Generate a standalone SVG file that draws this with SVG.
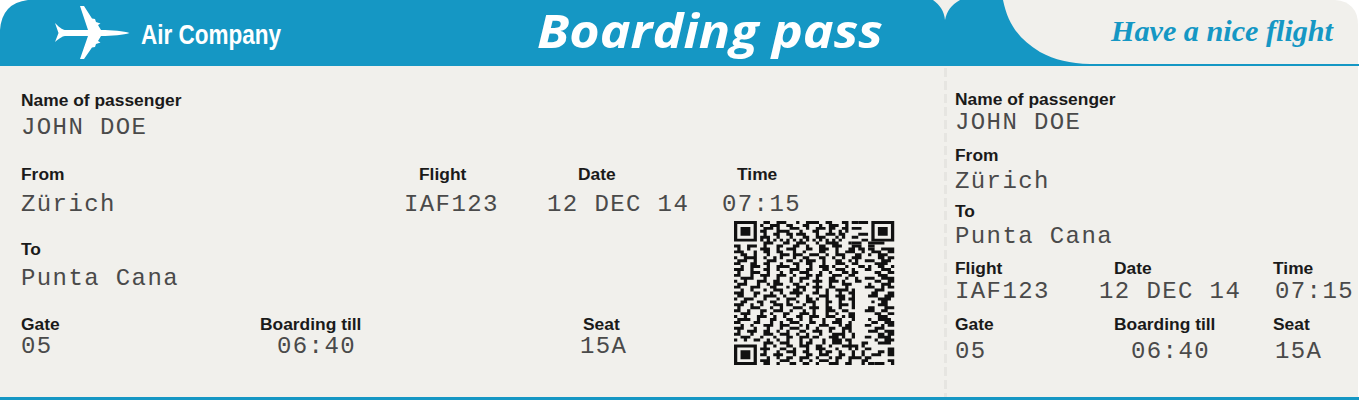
<svg xmlns="http://www.w3.org/2000/svg" width="1359" height="400" viewBox="0 0 1359 400">
<style>
.l{font:bold 17.4px "Liberation Sans",Arial,sans-serif;fill:#1a1a1a}
.v{font:24px "Liberation Mono","Courier New",monospace;fill:#4a4a4a;letter-spacing:1.4px}
.b{fill:#1597c4}
</style>
<rect width="1359" height="400" fill="#fff"/>
<g id="ticket">
<path d="M0 66V30Q2 3 28 0H1335Q1358 2 1358 25V400H0Z" fill="#f1f0ec"/>
<path class="b" d="M0 66V30Q2 3 28 0H933C940 5 944 11 945 20C947 11 951 5 960 0H1003C1008 25 1020 40 1040 52C1055 60 1070 63.500 1090 64H1359V66Z"/>
<rect class="b" x="0" y="397" width="1359" height="3"/>
<path d="M945.500 68V397" stroke="#e6e5e1" stroke-width="3" stroke-dasharray="9 4" fill="none"/>
</g>
<g id="brand">
<path fill="#fff" d="M129.500 33C124 31 112 30 101 30L98 25 100.500 23.500 96 22 95 19 92 18.500 84 6H80L88 30H66C63 30 61 29 55 23L58.500 33 55 42C61 37 63 36 66 36H88L80 59H84L92 47.500 95 47 96 44 100.500 42.500 98 41 101 36C112 36 124 35 129.500 33Z"/>
<text x="141" y="44" font-family="'Liberation Sans Narrow','Liberation Sans',sans-serif" font-weight="bold" font-size="28" fill="#fff" textLength="140" lengthAdjust="spacingAndGlyphs">Air Company</text>
</g>
<g id="title">
<text x="537" y="48" font-family="'Open Sans','Noto Sans',sans-serif" font-style="italic" font-weight="700" font-size="46" fill="#fff" textLength="346" lengthAdjust="spacingAndGlyphs">Boarding pass</text>
</g>
<g id="slogan">
<text x="1111" y="41" font-family="'Liberation Serif',serif" font-style="italic" font-weight="bold" font-size="30" fill="#1597c4" textLength="222" lengthAdjust="spacingAndGlyphs">Have a nice flight</text>
</g>
<g id="pass-main">
<text class="l" x="21" y="106">Name of passenger</text>
<text class="v" x="21" y="134">JOHN DOE</text>
<text class="l" x="21" y="180">From</text>
<text class="l" x="419" y="180">Flight</text>
<text class="l" x="578" y="180">Date</text>
<text class="l" x="737" y="180">Time</text>
<text class="v" x="21" y="211">Zürich</text>
<text class="v" x="404" y="211">IAF123</text>
<text class="v" x="547" y="211">12 DEC 14</text>
<text class="v" x="722" y="211">07:15</text>
<text class="l" x="21" y="255">To</text>
<text class="v" x="21" y="285">Punta Cana</text>
<text class="l" x="21" y="330">Gate</text>
<text class="l" x="260" y="330">Boarding till</text>
<text class="l" x="583" y="330">Seat</text>
<text class="v" x="21" y="353">05</text>
<text class="v" x="277" y="353">06:40</text>
<text class="v" x="580" y="353">15A</text>
</g>
<g id="qr" transform="translate(734 221) scale(3.27 2.94)">
<path fill="none" stroke="#111" stroke-width="1" d="M.5 .5h6v6h-6zM42.500 .5h6v6h-6zM.5 42.500h6v6h-6z"/>
<path fill="#111" d="M2 2h3v3h-3zM44 2h3v3h-3zM2 44h3v3h-3z"/>
<path fill="none" stroke="#111" stroke-width="1" d="M9 .5h2m2 0h3m3 0h1m2 0h4m2 0h2m3 0h2m1 0h2
M8 1.500h1m2 0h3m2 0h2m3 0h2m3 0h1m2 0h3m2 0h1
M9 2.500h3m1 0h1m3 0h3m2 0h1m2 0h3m1 0h2m2 0h2
M8 3.500h2m3 0h4m3 0h1m3 0h2m3 0h1m2 0h1m1 0h1
M9 4.500h1m2 0h2m2 0h2m1 0h3m3 0h1m2 0h3m1 0h2
M8 5.500h3m2 0h1m3 0h1m3 0h2m2 0h3m3 0h1m1 0h1
M8 6.500h1m1 0h1m1 0h1m1 0h1m1 0h1m1 0h1m1 0h1m1 0h1m1 0h1m1 0h1m1 0h1m1 0h1m1 0h1
M9 7.500h3m3 0h2m2 0h3m3 0h1m2 0h4m3 0h1
M0 8.500h2m2 0h3m2 0h1m3 0h2m3 0h2m2 0h1m3 0h2m2 0h3m3 0h3m2 0h2
M1 9.500h1m2 0h1m3 0h3m2 0h1m2 0h3m3 0h2m2 0h3m2 0h1m3 0h2m1 0h2
M0 10.500h3m3 0h1m2 0h2m2 0h2m3 0h1m2 0h1m4 0h2m3 0h1m2 0h3m2 0h1
M2 11.500h2m2 0h1m3 0h1m3 0h3m1 0h3m2 0h3m2 0h1m2 0h3m3 0h2
M0 12.500h1m2 0h4m2 0h1m2 0h1m1 0h1m3 0h1m2 0h2m3 0h2m2 0h1m2 0h1m2 0h3
M1 13.500h3m2 0h1m3 0h3m3 0h2m2 0h1m1 0h3m2 0h1m3 0h2m2 0h1m1 0h1
M0 14.500h2m3 0h2m2 0h2m3 0h1m3 0h2m2 0h2m3 0h1m3 0h3m2 0h2
M2 15.500h1m2 0h3m2 0h1m2 0h4m2 0h1m3 0h1m2 0h3m1 0h1m3 0h1m3 0h2
M0 16.500h3m2 0h1m3 0h2m2 0h1m3 0h3m2 0h2m3 0h2m2 0h3m2 0h1
M1 17.500h1m3 0h3m2 0h1m3 0h1m2 0h1m2 0h3m3 0h1m2 0h1m3 0h2m1 0h2
M0 18.500h2m3 0h1m2 0h3m2 0h3m2 0h1m3 0h2m1 0h2m3 0h3m2 0h2
M2 19.500h4m3 0h1m3 0h1m3 0h1m2 0h3m2 0h1m3 0h2m3 0h1m2 0h1
M0 20.500h1m2 0h1m3 0h3m2 0h2m3 0h1m2 0h1m3 0h3m2 0h3m1 0h1m3 0h2
M1 21.500h3m3 0h1m2 0h1m1 0h3m3 0h2m2 0h1m2 0h1m3 0h1m3 0h3
M0 22.500h2m3 0h3m3 0h2m3 0h1m2 0h3m2 0h3m2 0h2m3 0h1
M2 23.500h1m2 0h1m3 0h1m2 0h3m3 0h2m1 0h1m3 0h1m2 0h1m2 0h4m1 0h1
M0 24.500h3m3 0h2m3 0h1m2 0h1m2 0h4m3 0h2m2 0h1m3 0h1m2 0h2
M1 25.500h2m3 0h1m2 0h4m2 0h1m3 0h1m2 0h1m3 0h3m2 0h3m2 0h1
M0 26.500h1m2 0h3m3 0h1m3 0h1m2 0h3m3 0h2m1 0h1m2 0h1m3 0h2m1 0h2
M2 27.500h2m3 0h2m2 0h2m3 0h1m2 0h1m2 0h3m3 0h2m2 0h1m3 0h1
M0 28.500h3m2 0h1m2 0h1m3 0h3m1 0h2m3 0h1m2 0h1m3 0h1m3 0h3m1 0h1
M1 29.500h1m3 0h3m3 0h1m2 0h1m3 0h3m2 0h3m2 0h2m2 0h1m3 0h1
M0 30.500h2m2 0h1m3 0h2m2 0h3m2 0h1m3 0h1m2 0h1m3 0h3m2 0h2
M2 31.500h3m3 0h1m2 0h1m3 0h2m3 0h3m1 0h1m3 0h1m2 0h1m3 0h2
M0 32.500h1m2 0h1m3 0h3m2 0h1m2 0h1m3 0h2m2 0h3m2 0h3m2 0h1m1 0h2
M1 33.500h4m2 0h1m3 0h2m3 0h2m2 0h1m2 0h1m3 0h1m3 0h2m3 0h1
M0 34.500h2m4 0h2m3 0h1m2 0h1m2 0h3m3 0h2m2 0h1m2 0h3m2 0h1
M2 35.500h1m2 0h1m3 0h3m2 0h3m3 0h1m1 0h1m3 0h3m3 0h1m1 0h2
M0 36.500h3m3 0h1m3 0h1m3 0h1m2 0h3m2 0h1m2 0h1m3 0h2m2 0h3
M1 37.500h1m2 0h3m2 0h2m2 0h1m2 0h1m3 0h2m2 0h3m2 0h1m3 0h1m1 0h1
M0 38.500h2m3 0h1m3 0h3m2 0h3m2 0h1m2 0h1m3 0h1m3 0h4m2 0h1
M2 39.500h3m3 0h1m3 0h1m3 0h2m2 0h3m1 0h2m3 0h3m1 0h1m2 0h1
M0 40.500h1m2 0h1m2 0h2m2 0h1m2 0h1m2 0h1m3 0h1m2 0h1m3 0h1m2 0h3m1 0h2
M9 41.500h3m2 0h3m3 0h1m1 0h2m3 0h1m2 0h3m2 0h1m3 0h2
M9 42.500h1m2 0h1m3 0h2m2 0h3m2 0h2m2 0h1m3 0h5m1 0h1
M8 43.500h3m3 0h2m2 0h1m3 0h1m2 0h3m3 0h1m3 0h1m1 0h1m2 0h2
M9 44.500h1m3 0h1m2 0h3m2 0h2m3 0h1m1 0h2m2 0h1m3 0h1m2 0h1
M8 45.500h2m2 0h3m3 0h1m3 0h2m2 0h3m3 0h2m2 0h1m2 0h1
M10 46.500h1m2 0h1m2 0h2m2 0h3m2 0h1m3 0h1m1 0h2m2 0h4m1 0h2
M8 47.500h3m3 0h3m3 0h1m2 0h1m2 0h3m2 0h1m3 0h1m3 0h2
M9 48.500h2m2 0h1m3 0h2m2 0h2m2 0h1m3 0h3m2 0h2m3 0h1m1 0h2"/>
<path fill="none" stroke="#111" stroke-width="1" d="M38 .5h3M36 2.500h3M38 4.500h3M36 5.500h2M39 6.500h2M36 7.500h3m2 0h5
M41 9.500h2m2 0h4M42 10.500h3m2 0h2M41 11.500h1m2 0h3M44 12.500h2m1 0h2M40 13.500h3m2 0h3M43 14.500h4M41 15.500h1m2 0h2m2 0h1M40 16.500h2m3 0h3M43 17.500h2m2 0h2M44 18.500h3M40 19.500h3m2 0h4M43 20.500h2m2 0h2M41 21.500h1m3 0h3M40 22.500h3m2 0h1m1 0h2M43 23.500h3M42 24.500h2m3 0h2M41 25.500h3m2 0h3M44 26.500h4M42 27.500h1m2 0h2M44 28.500h3M41 29.500h2m3 0h3M40 30.500h3m2 0h2M43 31.500h2m2 0h2M44 32.500h3M41 33.500h1m2 0h4M42 34.500h2m2 0h3M40 35.500h2m3 0h1m1 0h2M43 36.500h3M41 37.500h3m2 0h3M44 38.500h2m1 0h2M40 39.500h2m2 0h4M43 40.500h1m2 0h3
M44 41.500h4M47 43.500h2M44 44.500h2m1 0h2M42 45.500h3m2 0h2M47 47.500h2M43 48.500h3m2 0h1"/>
</g>
<g id="pass-stub">
<text class="l" x="955" y="105">Name of passenger</text>
<text class="v" x="955" y="129">JOHN DOE</text>
<text class="l" x="955" y="161">From</text>
<text class="v" x="955" y="188">Zürich</text>
<text class="l" x="955" y="217">To</text>
<text class="v" x="955" y="243">Punta Cana</text>
<text class="l" x="955" y="274">Flight</text>
<text class="l" x="1114" y="274">Date</text>
<text class="l" x="1273" y="274">Time</text>
<text class="v" x="955" y="298">IAF123</text>
<text class="v" x="1099" y="298">12 DEC 14</text>
<text class="v" x="1275" y="298">07:15</text>
<text class="l" x="955" y="330">Gate</text>
<text class="l" x="1114" y="330">Boarding till</text>
<text class="l" x="1273" y="330">Seat</text>
<text class="v" x="955" y="358">05</text>
<text class="v" x="1131" y="358">06:40</text>
<text class="v" x="1275" y="358">15A</text>
</g>
</svg>
